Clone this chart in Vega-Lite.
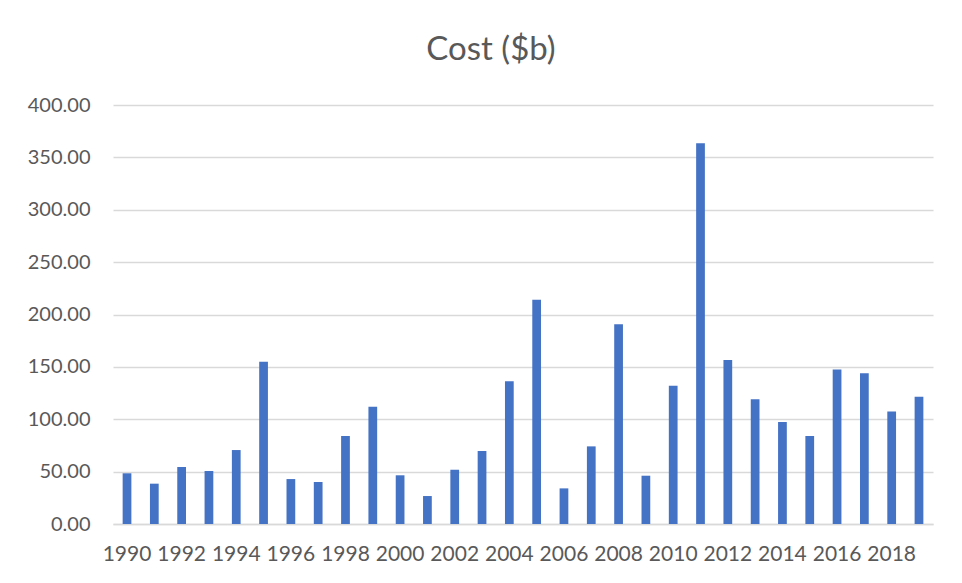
{
  "$schema": "https://vega.github.io/schema/vega-lite/v6.json",
  "width": 820,
  "height": 419,
  "autosize": {"type": "none"},
  "padding": {"left": 113, "top": 105, "right": 29, "bottom": 59},
  "background": "white",
  "title": {
    "text": "Cost ($b)",
    "font": "Lato",
    "fontSize": 33,
    "fontWeight": "normal",
    "color": "#595959",
    "anchor": "middle",
    "dx": -32,
    "offset": 28
  },
  "data": {
    "values": [
      {"year": "1990", "cost": 48.4},
      {"year": "1991", "cost": 38.5},
      {"year": "1992", "cost": 54.4},
      {"year": "1993", "cost": 50.6},
      {"year": "1994", "cost": 70.6},
      {"year": "1995", "cost": 154.9},
      {"year": "1996", "cost": 42.9},
      {"year": "1997", "cost": 40.1},
      {"year": "1998", "cost": 84.0},
      {"year": "1999", "cost": 112.0},
      {"year": "2000", "cost": 46.5},
      {"year": "2001", "cost": 26.7},
      {"year": "2002", "cost": 51.8},
      {"year": "2003", "cost": 69.7},
      {"year": "2004", "cost": 136.2},
      {"year": "2005", "cost": 214.0},
      {"year": "2006", "cost": 34.0},
      {"year": "2007", "cost": 74.1},
      {"year": "2008", "cost": 190.6},
      {"year": "2009", "cost": 46.1},
      {"year": "2010", "cost": 132.0},
      {"year": "2011", "cost": 363.6},
      {"year": "2012", "cost": 156.5},
      {"year": "2013", "cost": 119.0},
      {"year": "2014", "cost": 97.3},
      {"year": "2015", "cost": 84.0},
      {"year": "2016", "cost": 147.6},
      {"year": "2017", "cost": 143.8},
      {"year": "2018", "cost": 107.5},
      {"year": "2019", "cost": 121.5}
    ]
  },
  "mark": {"type": "bar", "color": "#4472C4"},
  "encoding": {
    "x": {
      "field": "year",
      "type": "ordinal",
      "scale": {"paddingInner": 0.68, "paddingOuter": 0.353},
      "axis": {
        "title": null,
        "labelAngle": 0,
        "values": ["1990","1992","1994","1996","1998","2000","2002","2004","2006","2008","2010","2012","2014","2016","2018"],
        "ticks": false,
        "domain": true,
        "domainColor": "#d9d9d9",
        "domainWidth": 1.5,
        "labelFont": "Lato",
        "labelFontSize": 21,
        "labelColor": "#595959",
        "labelPadding": 19,
        "labelOverlap": false
      }
    },
    "y": {
      "field": "cost",
      "type": "quantitative",
      "scale": {"domain": [0, 400], "nice": false},
      "axis": {
        "title": null,
        "values": [0, 50, 100, 150, 200, 250, 300, 350, 400],
        "format": ".2f",
        "ticks": false,
        "domain": false,
        "grid": true,
        "gridColor": "#d9d9d9",
        "gridWidth": 1.3,
        "labelFont": "Lato",
        "labelFontSize": 20,
        "labelColor": "#595959",
        "labelPadding": 23,
        "labelOverlap": false
      }
    }
  },
  "config": {"view": {"stroke": null}}
}
